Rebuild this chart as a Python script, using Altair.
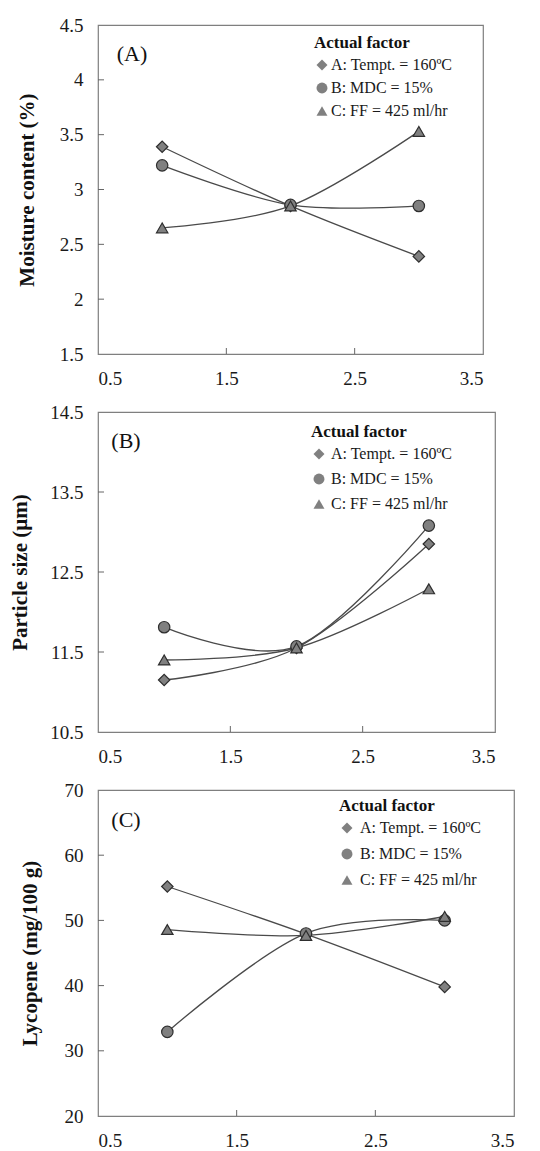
import altair as alt
import pandas as pd

# ---- data ----
levels = [1, 2, 3]
series_names = ["A: Tempt. = 160ºC", "B: MDC = 15%", "C: FF = 425 ml/hr"]
shapes = ["diamond", "circle", "triangle-up"]

moisture_A = [3.39, 2.85, 2.39]
moisture_B = [3.22, 2.86, 2.85]
moisture_C = [2.65, 2.85, 3.53]

size_A = [11.15, 11.55, 12.85]
size_B = [11.81, 11.57, 13.08]
size_C = [11.40, 11.55, 12.29]

lyco_A = [55.2, 47.9, 39.8]
lyco_B = [32.9, 48.0, 50.0]
lyco_C = [48.6, 47.7, 50.6]

x_labels = [0.5, 1.5, 2.5, 3.5]
x_inner_ticks = [1.5, 2.5]

moisture_ticks = [1.5, 2, 2.5, 3, 3.5, 4, 4.5]
size_ticks = [10.5, 11.5, 12.5, 13.5, 14.5]
lyco_ticks = [20, 30, 40, 50, 60, 70]

FONT = "Liberation Serif"
LINE = "#4a4a4a"
FILL = "#808080"
EDGE = "#2e2e2e"
FRAME = "#7f7f7f"


def long_df(a, b, c):
    rows = []
    for name, vals in zip(series_names, [a, b, c]):
        for lv, v in zip(levels, vals):
            rows.append({"level": lv, "value": v, "series": name})
    return pd.DataFrame(rows)


def panel(df, label, ytitle, yticks, width, height, legend_xy, label_xy,
          title_x, label_offset, row_pad):
    xscale = alt.Scale(domain=[0.5, 3.5], nice=False, zero=False)
    yscale = alt.Scale(domain=[yticks[0], yticks[-1]], nice=False, zero=False)
    xaxis = alt.Axis(values=x_labels, labelExpr="'' + datum.value", title=None)
    yaxis = alt.Axis(values=yticks, labelExpr="'' + datum.value", title=ytitle,
                     titleX=title_x, titleBaseline="middle")
    x = alt.X("level:Q", scale=xscale, axis=xaxis, title=None)
    y = alt.Y("value:Q", scale=yscale, axis=yaxis, title=ytitle)
    base = alt.Chart(df)
    lines = base.mark_line(interpolate="cardinal", color=LINE, strokeWidth=1.3).encode(
        x=x, y=y, detail="series:N")
    points = base.mark_point(filled=True, fill=FILL, stroke=EDGE, strokeWidth=1.2,
                             opacity=1, fillOpacity=1, strokeOpacity=1, size=130).encode(
        x=x, y=y,
        shape=alt.Shape("series:N",
                        scale=alt.Scale(domain=series_names, range=shapes),
                        legend=alt.Legend(
                            orient="none", legendX=legend_xy[0], legendY=legend_xy[1],
                            title="Actual factor", titleFont=FONT, titleFontSize=17,
                            titleFontWeight="bold", titleColor="#111111",
                            labelFont=FONT, labelFontSize=16, labelColor="#1a1a1a",
                            symbolFillColor=FILL, symbolStrokeColor=EDGE,
                            symbolStrokeWidth=1.2, symbolSize=120, rowPadding=row_pad,
                            titlePadding=5, labelOffset=label_offset, padding=0,
                            labelLimit=300)))
    inner_y = yticks[1:-1]
    yt = alt.Chart(pd.DataFrame({"value": inner_y})).mark_rule(
        color="#666666", strokeWidth=1).encode(
        y=y, x=alt.value(0), x2=alt.value(6))
    xt = alt.Chart(pd.DataFrame({"level": x_inner_ticks})).mark_rule(
        color="#666666", strokeWidth=1).encode(
        x=x, y=alt.value(height), y2=alt.value(height - 6))
    txt = alt.Chart(pd.DataFrame({"t": [label]})).mark_text(
        font=FONT, fontSize=22, color="#111111", align="center", baseline="middle").encode(
        text="t:N", x=alt.value(label_xy[0]), y=alt.value(label_xy[1]))
    return alt.layer(lines, points, yt, xt, txt).properties(width=width, height=height)


pA = panel(long_df(moisture_A, moisture_B, moisture_C), "(A)", "Moisture content (%)",
           moisture_ticks, 385, 329, (216, 10), (34, 29), -71, 1, 7)
pB = panel(long_df(size_A, size_B, size_C), "(B)", "Particle size (µm)",
           size_ticks, 397, 320, (213, 12), (28, 29), -78, 4, 9)
pC = panel(long_df(lyco_A, lyco_B, lyco_C), "(C)", "Lycopene (mg/100 g)",
           lyco_ticks, 416, 326, (241, 8), (28, 30), -68, 5, 10)

chart = alt.vconcat(pA, pB, pC, spacing=13).resolve_scale(shape="independent").configure_view(
    stroke=FRAME, strokeWidth=1.2
).configure_axis(
    domain=False, ticks=False, grid=False,
    labelFont=FONT, labelFontSize=19, labelColor="#1a1a1a", labelPadding=15,
    titleFont=FONT, titleFontSize=21, titleFontWeight="bold", titleColor="#111111",
    titlePadding=16
).properties(
    background="white",
    padding={"left": 0, "top": 7, "right": 4, "bottom": 0}
)

chart.save("out.html", embed_options={"renderer": "svg", "actions": False})
